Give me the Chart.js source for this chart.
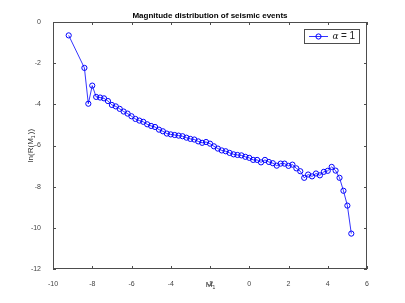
<!DOCTYPE html>
<html>
<head>
<meta charset="utf-8">
<script src="https://cdn.jsdelivr.net/npm/chart.js@4/dist/chart.umd.min.js"></script>
<style>
  html, body { margin: 0; padding: 0; background: #fff; }
  #wrap { width: 405px; height: 303px; }
</style>
</head>
<body>
<div id="wrap"><canvas id="graf" width="405" height="303"></canvas></div>
<script>
// data
const magnitudes = [
  -9.2, -8.4, -8.2, -8.0,
  -7.8, -7.6, -7.4, -7.2, -7.0, -6.8, -6.6, -6.4, -6.2, -6.0,
  -5.8, -5.6, -5.4, -5.2, -5.0, -4.8, -4.6, -4.4, -4.2, -4.0,
  -3.8, -3.6, -3.4, -3.2, -3.0, -2.8, -2.6, -2.4, -2.2, -2.0,
  -1.8, -1.6, -1.4, -1.2, -1.0, -0.8, -0.6, -0.4, -0.2, 0.0,
  0.2, 0.4, 0.6, 0.8, 1.0, 1.2, 1.4, 1.6, 1.8, 2.0,
  2.2, 2.4, 2.6, 2.8, 3.0, 3.2, 3.4, 3.6, 3.8, 4.0,
  4.2, 4.4, 4.6, 4.8, 5.0, 5.2
];
const lnR = [
  -0.65, -2.23, -3.97, -3.09,
  -3.64, -3.67, -3.71, -3.84, -4.03, -4.10, -4.22, -4.35, -4.45, -4.58,
  -4.71, -4.79, -4.85, -4.97, -5.05, -5.10, -5.23, -5.31, -5.42, -5.46,
  -5.49, -5.52, -5.55, -5.62, -5.68, -5.71, -5.80, -5.87, -5.83, -5.91,
  -6.04, -6.15, -6.24, -6.28, -6.36, -6.43, -6.46, -6.48, -6.55, -6.60,
  -6.70, -6.70, -6.82, -6.70, -6.80, -6.86, -6.98, -6.88, -6.88, -6.99,
  -6.93, -7.11, -7.25, -7.57, -7.41, -7.50, -7.36, -7.45, -7.28, -7.23,
  -7.04, -7.22, -7.57, -8.20, -8.92, -10.28
];
const xTicks = [-10, -8, -6, -4, -2, 0, 2, 4, 6];
const yTicks = [0, -2, -4, -6, -8, -10, -12];

const titulo = "Magnitude distribution of seismic events";
const corEixo = "#4d4d4d";
const azul = "#0000ff";

// frame, inward ticks, titles and legend, matlab style
const pluginMoldura = {
  id: "moldura",
  afterDraw(chart) {
    const { ctx, chartArea: a, scales } = chart;
    const len = 3;
    ctx.save();
    ctx.strokeStyle = corEixo;
    ctx.lineWidth = 1;
    ctx.strokeRect(a.left + 0.5, a.top + 0.5, a.right - a.left - 1, a.bottom - a.top - 1);

    ctx.beginPath();
    xTicks.forEach(v => {
      const px = Math.round(scales.x.getPixelForValue(v)) + 0.5;
      ctx.moveTo(px, a.bottom); ctx.lineTo(px, a.bottom - len);
      ctx.moveTo(px, a.top); ctx.lineTo(px, a.top + len);
    });
    yTicks.forEach(v => {
      const py = Math.round(scales.y.getPixelForValue(v)) + 0.5;
      ctx.moveTo(a.left, py); ctx.lineTo(a.left + len, py);
      ctx.moveTo(a.right, py); ctx.lineTo(a.right - len, py);
    });
    ctx.stroke();

    // title
    ctx.fillStyle = "#000";
    ctx.font = "bold 8px 'Liberation Sans', Arial, sans-serif";
    ctx.textAlign = "center";
    ctx.textBaseline = "middle";
    ctx.fillText(titulo, (a.left + a.right) / 2, 16);

    // axis titles
    ctx.fillStyle = "#333";
    ctx.font = "8px 'Liberation Sans', Arial, sans-serif";
    ctx.fillText("M", (a.left + a.right) / 2 - 1, 285);
    ctx.font = "5px 'Liberation Sans', Arial, sans-serif";
    ctx.fillText("1", (a.left + a.right) / 2 + 4, 288);

    ctx.save();
    ctx.translate(31, (a.top + a.bottom) / 2);
    ctx.rotate(-Math.PI / 2);
    ctx.font = "8px 'Liberation Sans', Arial, sans-serif";
    ctx.textAlign = "left";
    const p1 = "ln(R(M", p2 = "))";
    const w1 = ctx.measureText(p1).width;
    const w2 = ctx.measureText(p2).width;
    const ws = 4;
    let x0 = -(w1 + ws + w2) / 2;
    ctx.fillText(p1, x0, 0);
    ctx.font = "5px 'Liberation Sans', Arial, sans-serif";
    ctx.fillText("1", x0 + w1, 3);
    ctx.font = "8px 'Liberation Sans', Arial, sans-serif";
    ctx.fillText(p2, x0 + w1 + ws, 0);
    ctx.restore();

    // legend box
    const lx = 304.5, ly = 29.5, lw = 55, lh = 14;
    ctx.fillStyle = "#fff";
    ctx.fillRect(lx, ly, lw, lh);
    ctx.strokeStyle = corEixo;
    ctx.strokeRect(lx, ly, lw, lh);
    const cy = ly + lh / 2;
    ctx.strokeStyle = azul;
    ctx.lineWidth = 0.8;
    ctx.beginPath();
    ctx.moveTo(309, cy); ctx.lineTo(328, cy);
    ctx.stroke();
    ctx.lineWidth = 1;
    ctx.beginPath();
    ctx.arc(318.5, cy, 2.6, 0, Math.PI * 2);
    ctx.stroke();
    ctx.fillStyle = "#222";
    ctx.textAlign = "left";
    ctx.font = "italic 9px 'DejaVu Serif', serif";
    ctx.fillText("α", 332.5, cy + 0.5);
    ctx.font = "10px 'Liberation Sans', Arial, sans-serif";
    ctx.fillText("= 1", 341, cy);
    ctx.restore();
  }
};

const pontos = magnitudes.map((m, i) => ({ x: m, y: lnR[i] }));

new Chart(document.getElementById("graf").getContext("2d"), {
  type: "line",
  data: {
    datasets: [{
      label: "α = 1",
      data: pontos,
      borderColor: azul,
      borderWidth: 0.8,
      backgroundColor: "rgba(0,0,0,0)",
      pointStyle: "circle",
      pointRadius: 2.6,
      pointBorderWidth: 1,
      pointBorderColor: azul,
      pointBackgroundColor: "rgba(0,0,0,0)",
      tension: 0
    }]
  },
  options: {
    responsive: false,
    animation: false,
    layout: { padding: { left: 0, right: 38, top: 22, bottom: 0 } },
    plugins: {
      legend: { display: false },
      title: { display: false },
      tooltip: { enabled: false }
    },
    scales: {
      x: {
        type: "linear",
        min: -10, max: 6,
        afterFit: s => { s.height = 34; },
        afterBuildTicks: s => { s.ticks = xTicks.map(v => ({ value: v })); },
        grid: { display: false },
        border: { display: false },
        ticks: {
          padding: 3,
          color: "#444",
          maxRotation: 0,
          font: { family: "'Liberation Sans', Arial, sans-serif", size: 7 }
        }
      },
      y: {
        type: "linear",
        min: -12, max: 0,
        afterFit: s => { s.width = 53; },
        afterBuildTicks: s => { s.ticks = yTicks.map(v => ({ value: v })); },
        grid: { display: false },
        border: { display: false },
        ticks: {
          padding: 4,
          color: "#444",
          font: { family: "'Liberation Sans', Arial, sans-serif", size: 7 }
        }
      }
    }
  },
  plugins: [pluginMoldura]
});
</script>
</body>
</html>
